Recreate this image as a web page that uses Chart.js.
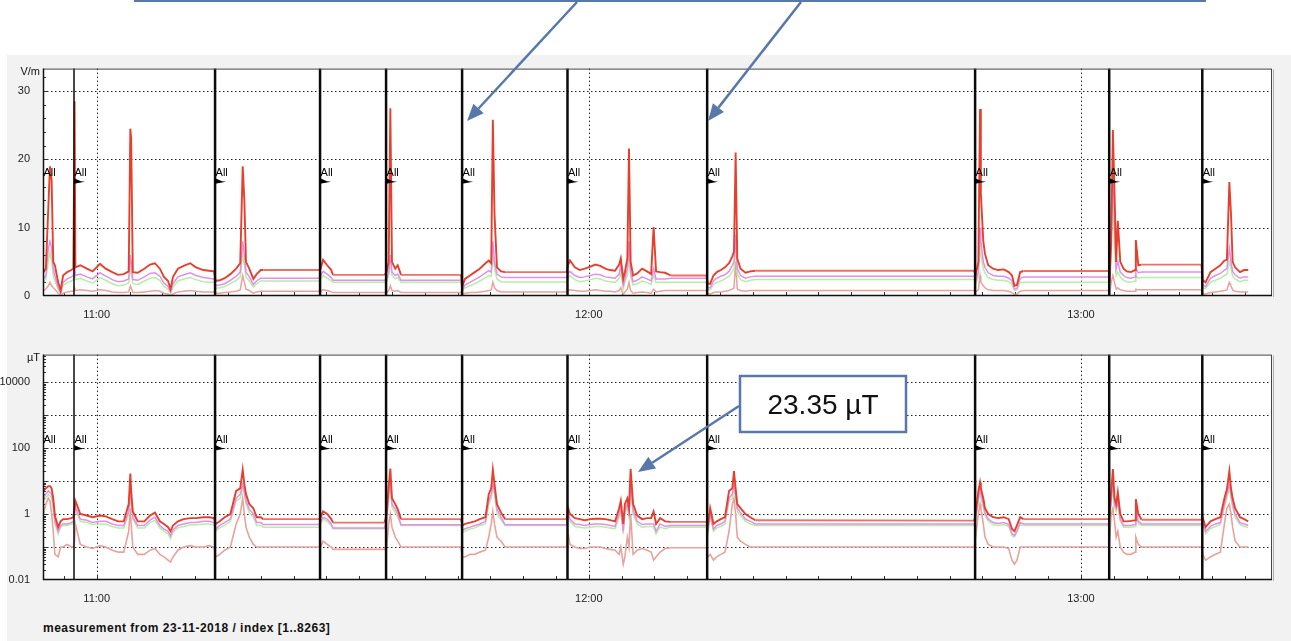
<!DOCTYPE html>
<html>
<head>
<meta charset="utf-8">
<script src="https://cdn.jsdelivr.net/npm/chart.js@4.4.0/dist/chart.umd.min.js"></script>
<style>
  body {
    margin: 0;
    width: 1291px;
    height: 641px;
    background: #fff;
    position: relative;
    overflow: hidden;
    font-family: "Liberation Sans", Arial, sans-serif;
  }
  #panel {
    position: absolute;
    left: 7px;
    top: 55px;
    width: 1284px;
    height: 586px;
    background: #f2f2f2;
  }
  canvas {
    position: absolute;
    left: 0;
  }
  #eCanvas { top: 57px; }
  #bCanvas { top: 343px; }
  #footer {
    position: absolute;
    left: 43px;
    top: 621px;
    font: bold 12px "Liberation Sans", Arial, sans-serif;
    letter-spacing: 0.5px;
    color: #111;
    white-space: nowrap;
  }
  #overlay {
    position: absolute;
    left: 0;
    top: 0;
    pointer-events: none;
  }
</style>
</head>
<body>

<div id="panel"></div>
<canvas id="eCanvas" width="1291" height="263"></canvas>
<canvas id="bCanvas" width="1291" height="262"></canvas>
<div id="footer">measurement from 23-11-2018 / index [1..8263]</div>
<svg id="overlay" width="1291" height="641"></svg>

<script>
// time axis: minutes after 11:00
const timeMin = -6.55;
const timeMax = 143.3;
const hourTicks = [0, 60, 120];

// start of each measurement run ("All" marker)
const sessionStarts = [-6.55, -2.77, 14.43, 27.23, 35.28, 44.55, 57.4, 74.43, 107.1, 123.45, 134.8];

// sample times, one row per run (last value of a row = held value until next run)
const minutes = [
  -6.5, -6.2, -5.9, -5.7, -5.5, -5.3, -5.1, -4.7, -4.4, -4.1, -3.6, -3.1, -2.85,
  -2.7, -2.6, -2.0, -1.2, -0.5, 0.4, 1.1, 1.9, 2.6, 3.3, 3.9, 4.1, 4.2, 4.4, 5.0, 5.8, 6.5, 7.1, 7.7, 8.2, 8.7, 9.0, 9.3, 9.9, 10.6, 11.4, 12.1, 13.0, 13.7, 14.3,
  14.5, 15.0, 15.6, 16.3, 17.0, 17.5, 17.8, 18.0, 18.2, 18.6, 19.1, 19.5, 20.0, 20.3, 27.1,
  27.3, 27.6, 28.1, 28.6, 28.8, 35.1,
  35.35, 35.6, 35.8, 36.0, 36.4, 36.7, 37.1, 44.4,
  44.6, 44.9, 45.5, 46.1, 46.7, 47.4, 47.8, 48.1, 48.3, 48.5, 48.8, 49.3, 49.8, 57.3,
  57.45, 57.7, 58.3, 58.9, 59.5, 60.2, 60.8, 61.4, 62.0, 62.6, 63.2, 63.7, 63.9, 64.2, 64.4, 64.7, 64.9, 65.1, 65.4, 65.9, 66.5, 67.1, 67.6, 67.9, 68.2, 68.7, 69.3, 70.0, 74.35,
  74.5, 74.8, 75.2, 75.6, 76.1, 76.6, 77.1, 77.5, 77.7, 77.9, 78.1, 78.5, 79.1, 79.7, 80.3, 107.0,
  107.15, 107.5, 107.7, 107.8, 108.1, 108.3, 108.7, 109.3, 109.9, 110.6, 111.2, 111.6, 111.9, 112.2, 112.6, 113.0, 123.4,
  123.5, 123.7, 123.9, 124.1, 124.3, 124.5, 124.8, 125.2, 125.6, 126.1, 126.6, 126.7, 127.0, 127.4, 134.7,
  134.85, 135.2, 135.8, 136.4, 137.0, 137.5, 137.8, 138.1, 138.3, 138.5, 138.8, 139.4, 139.9, 140.4
];

// electric field, V/m
const eRed = [
  3.5, 4, 13, 19, 17, 5, 4.5, 2, 0.8, 3, 3.5, 3.8, 4,
  28.5, 4.2, 4.5, 4.0, 3.6, 4.7, 4.0, 3.5, 3.1, 3.2, 3.6, 24.5, 23, 3.5, 3.4, 4.0, 4.6, 4.8, 4.0, 2.8, 2.2, 1.0, 2.8, 4.0, 4.4, 4.8, 4.2, 3.8, 3.7, 3.6,
  2.2, 2.3, 2.6, 3.2, 4.0, 4.8, 19, 14, 5, 4, 2.5, 3.2, 3.8, 3.8, 3.8,
  4.0, 5.3, 4.5, 3.8, 3.1, 3.1,
  3.5, 5, 27.5, 5, 4.0, 4.5, 3.1, 3.1,
  1.5, 2.5, 3.0, 3.5, 4.0, 4.8, 5.2, 4.8, 25.8, 12, 4.2, 3.6, 3.5, 3.5,
  4.5, 5.2, 4.2, 3.8, 4.0, 4.3, 4.6, 4.4, 4.0, 3.8, 3.7, 4.6, 5.5, 2.5, 3.5, 5.5, 21.6, 5, 3.0, 3.3, 4.0, 3.6, 3.2, 10.1, 3.6, 3.5, 3.4, 3.0, 3.0,
  1.8, 1.8, 3.0, 3.5, 3.8, 4.2, 4.8, 5.8, 6.5, 21, 5.5, 4.0, 3.4, 3.6, 3.7, 3.7,
  3.0, 5.0, 27.4, 15, 8, 6.2, 4.5, 4.0, 3.8, 3.9, 3.5, 3.0, 1.5, 1.6, 3.5, 3.66, 3.66,
  2.0, 8, 24.3, 15, 5, 11, 5, 4.0, 3.6, 3.5, 3.8, 8.2, 4.5, 4.6, 4.6,
  2.3, 2.0, 3.5, 4.0, 4.5, 5.2, 5.3, 16.7, 12, 5, 4.2, 3.5, 3.8, 3.8
];
const eViolet = [
  2.5, 3, 7, 8, 7, 4, 3, 1.2, 0.5, 2, 2.5, 2.8, 3,
  6, 3.0, 3.2, 2.8, 2.5, 3.4, 2.9, 2.4, 2.1, 2.2, 2.5, 6, 5, 2.4, 2.3, 2.8, 3.3, 3.4, 2.9, 1.9, 1.4, 0.6, 1.8, 2.8, 3.1, 3.4, 3.0, 2.7, 2.6, 2.5,
  1.5, 1.6, 1.8, 2.3, 2.9, 3.5, 8, 6, 3.5, 2.8, 1.7, 2.2, 2.6, 2.6, 2.6,
  3.0, 3.6, 3.2, 2.7, 2.3, 2.3,
  2.5, 3.5, 6, 3.5, 3, 3.2, 2.3, 2.3,
  1.0, 1.6, 2.0, 2.4, 2.8, 3.4, 3.7, 3.5, 8, 5, 3.2, 2.8, 2.7, 2.7,
  3.2, 3.6, 3.0, 2.7, 2.8, 3.0, 3.2, 3.1, 2.8, 2.7, 2.6, 3.2, 4.5, 1.6, 2.5, 4.0, 8.0, 3.5, 2.1, 2.3, 2.8, 2.5, 2.2, 4.0, 2.5, 2.5, 2.5, 2.6, 2.6,
  1.2, 1.2, 2.2, 2.6, 2.9, 3.1, 3.6, 4.5, 5, 9, 4, 3.0, 2.6, 2.8, 2.9, 2.9,
  2.2, 3.5, 10, 8, 5, 4.2, 3.4, 3.0, 2.9, 2.9, 2.6, 2.2, 1.0, 1.1, 2.6, 2.8, 2.8,
  1.5, 12, 19, 10, 4, 5, 3.5, 3.0, 2.7, 2.6, 2.8, 4, 3.4, 3.5, 3.5,
  1.6, 1.4, 2.6, 3.0, 3.3, 3.8, 4, 7, 5, 3.6, 3.1, 2.6, 2.8, 2.8
];
const eGreen = [
  2, 2.5, 5, 6.5, 5, 3, 2.2, 1, 0.3, 1.5, 2, 2.2, 2.4,
  4, 2.4, 2.6, 2.2, 1.9, 2.7, 2.3, 1.8, 1.5, 1.6, 1.9, 4, 3.5, 1.8, 1.7, 2.2, 2.6, 2.7, 2.3, 1.4, 1.0, 0.4, 1.3, 2.2, 2.5, 2.7, 2.4, 2.1, 2.0, 2.0,
  1.1, 1.2, 1.4, 1.8, 2.3, 2.8, 6, 4.5, 2.8, 2.2, 1.3, 1.8, 2.2, 2.2, 2.2,
  2.5, 3.0, 2.6, 2.2, 2.0, 2.0,
  2.0, 3.0, 5, 3, 2.5, 2.7, 2.0, 2.0,
  0.8, 1.2, 1.5, 1.8, 2.2, 2.7, 3.0, 2.9, 6, 4, 2.5, 2.1, 2.05, 2.05,
  2.6, 3.0, 2.4, 2.1, 2.2, 2.4, 2.6, 2.5, 2.2, 2.1, 2.0, 2.6, 3.5, 1.1, 2.0, 3.0, 6.0, 2.8, 1.6, 1.8, 2.2, 2.0, 1.7, 3.0, 2.0, 2.0, 2.0, 2.0, 2.0,
  0.9, 0.9, 1.7, 2.0, 2.2, 2.5, 2.9, 3.6, 4, 7, 3.2, 2.4, 2.1, 2.3, 2.4, 2.4,
  1.8, 2.8, 8, 6, 4, 3.4, 2.7, 2.4, 2.3, 2.3, 2.1, 1.7, 0.8, 0.9, 2.0, 2.0, 2.0,
  1.2, 9, 14, 7, 3, 3.5, 2.8, 2.3, 2.1, 2.0, 2.2, 3, 2.6, 2.7, 2.7,
  1.2, 1.1, 2.0, 2.3, 2.6, 3.0, 3.2, 5, 4, 2.9, 2.5, 2.1, 2.3, 2.3
];
const eSalmon = [
  0.8, 1, 1.5, 2, 1.5, 1.2, 1, 0.4, 0.2, 0.4, 0.6, 0.7, 0.7,
  1.2, 0.8, 0.9, 0.8, 0.7, 0.9, 0.8, 0.6, 0.5, 0.5, 0.6, 1.5, 1.2, 0.5, 0.5, 0.6, 0.7, 0.8, 0.7, 0.4, 0.3, 0.1, 0.3, 0.6, 0.7, 0.8, 0.7, 0.6, 0.6, 0.6,
  0.4, 0.4, 0.5, 0.6, 0.7, 0.9, 3, 2, 1.0, 0.8, 0.4, 0.6, 0.7, 0.7, 0.7,
  0.7, 0.9, 0.8, 0.6, 0.5, 0.5,
  0.5, 0.8, 1.5, 0.8, 0.7, 0.8, 0.5, 0.5,
  0.3, 0.4, 0.5, 0.5, 0.6, 0.7, 0.8, 0.9, 2, 1.2, 0.8, 0.6, 0.6, 0.6,
  0.8, 0.9, 0.8, 0.7, 0.7, 0.8, 0.9, 0.8, 0.7, 0.7, 0.6, 0.8, 1.2, 0.2, 0.6, 1.0, 2.0, 0.8, 0.4, 0.5, 0.6, 0.5, 0.4, 1.0, 0.6, 0.7, 0.8, 0.8, 0.8,
  0.3, 0.3, 0.5, 0.6, 0.6, 0.7, 0.8, 1.0, 1.2, 5, 1.0, 0.8, 0.7, 0.8, 0.8, 0.8,
  0.6, 0.9, 3, 2, 1.5, 1.2, 0.9, 0.8, 0.8, 0.8, 0.7, 0.5, 0.2, 0.3, 0.7, 0.8, 0.8,
  0.4, 2, 3, 2, 1, 1.2, 0.9, 0.8, 0.7, 0.7, 0.7, 1.0, 0.9, 0.9, 0.9,
  0.3, 0.3, 0.5, 0.6, 0.7, 0.8, 0.9, 2.0, 1.5, 0.9, 0.7, 0.6, 0.6, 0.6
];

// magnetic flux density, µT
const bRed = [
  5, 6, 7, 7, 6, 3, 0.9, 0.4, 0.6, 0.7, 0.7, 0.75, 0.8,
  1.5, 2.5, 1.0, 0.9, 0.8, 0.9, 0.85, 0.7, 0.6, 0.6, 2, 17, 5, 1.2, 0.6, 0.6, 0.9, 1.1, 0.6, 0.5, 0.4, 0.3, 0.45, 0.6, 0.7, 0.75, 0.75, 0.8, 0.8, 0.75,
  0.5, 0.6, 0.8, 1, 5, 6, 22, 8, 4, 2, 1.5, 0.8, 0.8, 0.7, 0.7,
  0.8, 1.2, 1.0, 0.7, 0.55, 0.55,
  1, 7, 24, 3, 2, 1.4, 0.7, 0.7,
  0.45, 0.5, 0.55, 0.6, 0.7, 0.8, 4, 6, 22, 8, 2, 1.1, 0.7, 0.7,
  1.6, 1.0, 0.75, 0.7, 0.65, 0.7, 0.72, 0.72, 0.7, 0.65, 0.6, 1.5, 2.5, 0.5, 2.0, 3.0, 1.5, 23.35, 2.0, 0.9, 0.7, 0.75, 0.75, 1.2, 0.5, 0.75, 0.6, 0.58, 0.58,
  0.4, 1.5, 0.5, 0.6, 0.7, 0.8, 5, 6, 20, 6, 2, 1.5, 1.0, 0.8, 0.65, 0.63,
  1, 5, 9, 6, 3, 1.5, 1.0, 0.8, 0.75, 0.8, 0.7, 0.35, 0.3, 0.45, 0.8, 0.7, 0.7,
  1, 5, 23, 3, 2, 4.6, 1, 0.6, 0.6, 0.62, 0.65, 2.8, 1.0, 0.67, 0.67,
  0.8, 0.4, 0.6, 0.7, 0.8, 3, 5.6, 20, 6, 3, 1.5, 0.8, 0.7, 0.6
];
const bViolet = [
  3, 4, 5, 4.5, 4, 2, 0.6, 0.3, 0.45, 0.5, 0.5, 0.55, 0.6,
  1.1, 1.6, 0.7, 0.65, 0.55, 0.6, 0.6, 0.5, 0.45, 0.45, 1.2, 6, 3, 0.8, 0.45, 0.45, 0.65, 0.8, 0.45, 0.35, 0.3, 0.22, 0.33, 0.45, 0.5, 0.55, 0.55, 0.6, 0.6, 0.55,
  0.35, 0.45, 0.55, 0.7, 3, 4, 8, 5, 2.5, 1.4, 1.0, 0.55, 0.55, 0.48, 0.48,
  0.6, 0.8, 0.7, 0.5, 0.38, 0.38,
  0.7, 4, 10, 2, 1.4, 1.0, 0.47, 0.47,
  0.32, 0.36, 0.4, 0.45, 0.5, 0.6, 2.5, 4, 8, 5, 1.4, 0.8, 0.47, 0.47,
  1.2, 0.7, 0.5, 0.48, 0.45, 0.48, 0.5, 0.5, 0.48, 0.45, 0.42, 1.0, 1.5, 0.3, 1.3, 2.0, 1.0, 8.0, 1.3, 0.6, 0.48, 0.5, 0.5, 0.5, 0.3, 0.5, 0.42, 0.45, 0.45,
  0.3, 1.0, 0.35, 0.45, 0.5, 0.6, 3, 4, 8, 4, 1.5, 1.1, 0.7, 0.6, 0.5, 0.5,
  0.7, 3, 6, 4, 2, 1.1, 0.7, 0.55, 0.52, 0.55, 0.48, 0.25, 0.22, 0.32, 0.55, 0.5, 0.5,
  0.7, 3, 8, 2, 1.5, 2.5, 0.7, 0.45, 0.45, 0.46, 0.48, 1.5, 0.6, 0.5, 0.5,
  0.55, 0.3, 0.42, 0.5, 0.55, 2, 4, 8, 4, 2, 1.0, 0.55, 0.5, 0.45
];
const bGreen = [
  2.5, 3, 4, 3.5, 3, 1.5, 0.5, 0.25, 0.4, 0.45, 0.45, 0.5, 0.5,
  0.9, 1.3, 0.6, 0.55, 0.48, 0.5, 0.5, 0.42, 0.38, 0.38, 1.0, 4, 2, 0.7, 0.38, 0.38, 0.55, 0.65, 0.38, 0.3, 0.25, 0.18, 0.28, 0.38, 0.42, 0.47, 0.47, 0.5, 0.5, 0.47,
  0.3, 0.38, 0.45, 0.6, 2.5, 3, 6, 4, 2, 1.1, 0.8, 0.45, 0.45, 0.4, 0.4,
  0.5, 0.7, 0.6, 0.45, 0.36, 0.36,
  0.6, 3, 8, 1.6, 1.1, 0.8, 0.45, 0.45,
  0.28, 0.3, 0.35, 0.38, 0.45, 0.5, 2, 3, 6, 4, 1.1, 0.65, 0.45, 0.45,
  1.0, 0.6, 0.42, 0.4, 0.38, 0.4, 0.42, 0.42, 0.4, 0.38, 0.36, 0.8, 1.2, 0.25, 1.0, 1.6, 0.8, 5.0, 1.0, 0.5, 0.4, 0.42, 0.42, 0.4, 0.25, 0.4, 0.36, 0.4, 0.4,
  0.25, 0.8, 0.3, 0.38, 0.42, 0.5, 2.5, 3, 6, 3, 1.2, 0.9, 0.6, 0.5, 0.45, 0.45,
  0.6, 2.5, 5, 3, 1.6, 0.9, 0.6, 0.48, 0.45, 0.48, 0.42, 0.22, 0.2, 0.28, 0.48, 0.45, 0.45,
  0.6, 2.5, 6, 1.6, 1.2, 2, 0.6, 0.4, 0.4, 0.4, 0.42, 1.2, 0.5, 0.45, 0.45,
  0.5, 0.25, 0.36, 0.42, 0.48, 1.6, 3, 6, 3, 1.6, 0.8, 0.48, 0.42, 0.4
];
const bSalmon = [
  1, 2, 3, 2.5, 1, 0.3, 0.06, 0.05, 0.1, 0.1, 0.12, 0.1, 0.1,
  0.15, 0.5, 0.12, 0.1, 0.09, 0.11, 0.1, 0.08, 0.07, 0.07, 0.3, 1.5, 0.5, 0.1, 0.06, 0.06, 0.08, 0.09, 0.06, 0.05, 0.04, 0.035, 0.05, 0.08, 0.1, 0.11, 0.1, 0.1, 0.11, 0.1,
  0.05, 0.06, 0.08, 0.1, 0.5, 1, 3, 1, 0.4, 0.2, 0.12, 0.1, 0.1, 0.1, 0.1,
  0.1, 0.15, 0.12, 0.1, 0.085, 0.085,
  0.1, 0.5, 1, 0.4, 0.2, 0.15, 0.1, 0.1,
  0.05, 0.05, 0.06, 0.06, 0.07, 0.08, 0.2, 0.5, 1.2, 0.5, 0.2, 0.15, 0.1, 0.1,
  0.3, 0.12, 0.1, 0.09, 0.09, 0.1, 0.1, 0.1, 0.09, 0.085, 0.08, 0.06, 0.1, 0.03, 0.05, 0.2, 0.1, 1.0, 0.06, 0.08, 0.09, 0.08, 0.07, 0.04, 0.05, 0.07, 0.09, 0.095, 0.095,
  0.05, 0.06, 0.04, 0.05, 0.06, 0.07, 0.3, 2, 3, 1, 0.2, 0.15, 0.12, 0.1, 0.1, 0.1,
  0.2, 1, 2, 1.5, 0.5, 0.2, 0.12, 0.1, 0.1, 0.1, 0.09, 0.04, 0.03, 0.04, 0.1, 0.1, 0.1,
  0.2, 1, 1.5, 0.6, 0.2, 0.3, 0.1, 0.07, 0.06, 0.06, 0.07, 0.2, 0.12, 0.1, 0.1,
  0.06, 0.04, 0.05, 0.06, 0.07, 0.5, 1.5, 2, 1.0, 0.4, 0.15, 0.1, 0.1, 0.1
];

// axes
const eTicks = [0, 10, 20, 30];
const eMax = 33.3;
const bTicks = [0.01, 0.1, 1, 10, 100, 1000, 10000];
const bLabelled = [0.01, 1, 100, 10000];
const bMax = 68000;


const colors = {
    red: "#e6402c",
    violet: "#e68cee",
    green: "#b2f0a2",
    salmon: "#e9a39c"
};


function series(values, color, holdColor, width) {

    return {
        data: minutes.map(
            (m, i) => ({ x: m, y: values[i] })
        ),
        borderColor: color,
        borderWidth: width,
        pointRadius: 0,
        tension: 0,
        segment: {
            borderColor: c =>
                c.p1.parsed.x - c.p0.parsed.x > 3 ? holdColor : color
        }
    };
}


function line(ctx, x1, y1, x2, y2) {
    ctx.beginPath();
    ctx.moveTo(x1, y1);
    ctx.lineTo(x2, y2);
    ctx.stroke();
}


// plot frame, dotted grid, inner tick marks, run markers
const framePlugin = {

    id: "frame",

    beforeDatasetsDraw(chart, args, opts) {

        const { ctx, chartArea: a } = chart;
        const xs = chart.scales.x;
        const ys = chart.scales.y;

        ctx.save();
        ctx.fillStyle = "#fff";
        ctx.fillRect(a.left, a.top, a.width, a.height);

        ctx.strokeStyle = "#222";
        ctx.lineWidth = 1;
        ctx.setLineDash([1.5, 2.5]);

        opts.grid.forEach(v => {
            const py = Math.round(ys.getPixelForValue(v)) + 0.5;
            line(ctx, a.left, py, a.right, py);
        });

        hourTicks.forEach(v => {
            const px = Math.round(xs.getPixelForValue(v)) + 0.5;
            line(ctx, px, a.top, px, a.bottom);
        });

        ctx.setLineDash([]);
        ctx.strokeStyle = "#333";

        for (let m = -4; m <= timeMax; m += 4) {
            const px = Math.round(xs.getPixelForValue(m)) + 0.5;
            line(ctx, px, a.bottom, px, a.bottom - 4);
        }

        opts.minor.forEach(v => {
            const py = Math.round(ys.getPixelForValue(v)) + 0.5;
            line(ctx, a.left, py, a.left + 3, py);
        });

        opts.grid.forEach(v => {
            const py = Math.round(ys.getPixelForValue(v)) + 0.5;
            line(ctx, a.left, py, a.left + 5, py);
        });

        ctx.restore();
    },

    afterDatasetsDraw(chart, args, opts) {

        const { ctx, chartArea: a } = chart;
        const xs = chart.scales.x;
        const ys = chart.scales.y;
        const fy = ys.getPixelForValue(opts.flagAt);

        ctx.save();

        sessionStarts.forEach((s, i) => {

            const px = xs.getPixelForValue(s);

            if (i > 0) {
                ctx.strokeStyle = "#0a0a0a";
                ctx.lineWidth = i === 1 ? 1.5 : 2.5;
                line(ctx, px, a.top, px, a.bottom);

                ctx.fillStyle = "#000";
                ctx.beginPath();
                ctx.moveTo(px, fy - 3);
                ctx.lineTo(px + 7, fy);
                ctx.lineTo(px + 11, fy + 0.5);
                ctx.lineTo(px, fy + 2.5);
                ctx.closePath();
                ctx.fill();
            }

            ctx.fillStyle = "#000";
            ctx.font = "11px 'Liberation Sans', Arial, sans-serif";
            ctx.textBaseline = "alphabetic";
            ctx.textAlign = "left";
            ctx.fillText("All", Math.max(px, a.left) + 0.5, fy - 5);
        });

        ctx.strokeStyle = "#444";
        ctx.lineWidth = 1;
        ctx.strokeRect(a.left + 0.5, a.top + 0.5, a.width - 1, a.height - 1);

        ctx.strokeStyle = "#111";
        ctx.lineWidth = 1.5;
        line(ctx, a.left, a.bottom - 0.5, a.right, a.bottom - 0.5);
        line(ctx, a.left + 0.5, a.top, a.left + 0.5, a.bottom);

        ctx.strokeStyle = "#b0b0b0";
        ctx.lineWidth = 1;
        line(ctx, a.right + 1.5, a.top + 1, a.right + 1.5, a.bottom + 1);

        ctx.fillStyle = "#111";
        ctx.font = "11px 'Liberation Sans', Arial, sans-serif";
        ctx.textAlign = "right";
        ctx.fillText(opts.unit, a.left - 3, a.top + 6);

        ctx.restore();
    }
};


function hourLabel(v) {
    const h = 11 + v / 60;
    return h + ":00";
}


function buildChart(canvasId, sets, yScale, frameOpts, padTop, xHeight) {

    return new Chart(

        document.getElementById(canvasId),

        {
            type: "line",

            data: {
                datasets: sets
            },

            options: {
                responsive: false,
                animation: false,
                events: [],
                layout: {
                    padding: { top: padTop, right: 19, left: 0, bottom: 0 }
                },
                plugins: {
                    legend: { display: false },
                    tooltip: { enabled: false },
                    frame: frameOpts
                },
                scales: {
                    x: {
                        type: "linear",
                        min: timeMin,
                        max: timeMax,
                        grid: { display: false },
                        border: { display: false },
                        afterBuildTicks: s => {
                            s.ticks = hourTicks.map(v => ({ value: v }));
                        },
                        afterFit: s => {
                            s.height = xHeight;
                        },
                        ticks: {
                            autoSkip: false,
                            maxRotation: 0,
                            padding: 4,
                            color: "#222",
                            font: { family: "'Liberation Sans', Arial, sans-serif", size: 11 },
                            callback: v => hourLabel(v)
                        }
                    },
                    y: yScale
                }
            },

            plugins: [framePlugin]
        }
    );
}


const eSets = [
    series(eRed, colors.red, "#ec7264", 1.9),
    series(eViolet, colors.violet, colors.violet, 1.5),
    series(eGreen, colors.green, colors.green, 1.5),
    series(eSalmon, colors.salmon, colors.salmon, 1.5)
];

const bSets = [
    series(bRed, colors.red, "#ec7264", 1.9),
    series(bViolet, colors.violet, colors.violet, 1.5),
    series(bGreen, colors.green, colors.green, 1.5),
    series(bSalmon, colors.salmon, colors.salmon, 1.6)
];

const axisFont = { family: "'Liberation Sans', Arial, sans-serif", size: 11 };

const eMinor = [];
for (let v = 2; v < eMax; v += 2) {
    if (v % 10 !== 0) eMinor.push(v);
}

const bMinor = [];
bTicks.forEach(d => {
    for (let k = 2; k <= 9; k++) {
        if (d * k < bMax) bMinor.push(d * k);
    }
});

buildChart(
    "eCanvas",
    eSets,
    {
        type: "linear",
        min: 0,
        max: eMax,
        grid: { display: false },
        border: { display: false },
        afterBuildTicks: s => {
            s.ticks = eTicks.map(v => ({ value: v }));
        },
        afterFit: s => {
            s.width = 43;
        },
        ticks: {
            padding: 5,
            color: "#222",
            font: axisFont,
            callback: v => String(v)
        }
    },
    {
        grid: eTicks.slice(1),
        minor: eMinor,
        unit: "V/m",
        flagAt: 16.8
    },
    4,
    24
);

buildChart(
    "bCanvas",
    bSets,
    {
        type: "logarithmic",
        min: 0.01,
        max: bMax,
        grid: { display: false },
        border: { display: false },
        afterBuildTicks: s => {
            s.ticks = bTicks.map(v => ({ value: v }));
        },
        afterFit: s => {
            s.width = 43;
        },
        ticks: {
            padding: 5,
            color: "#222",
            font: axisFont,
            callback: v => bLabelled.includes(v) ? String(v) : ""
        }
    },
    {
        grid: bTicks.slice(1),
        minor: bMinor,
        unit: "µT",
        flagAt: 100
    },
    7,
    25
);


// callouts drawn over the page
const svg = document.getElementById("overlay");
const NS = "http://www.w3.org/2000/svg";
const calloutBlue = "#5878aa";

function svgEl(tag, attrs) {
    const el = document.createElementNS(NS, tag);
    Object.keys(attrs).forEach(k => el.setAttribute(k, attrs[k]));
    svg.appendChild(el);
    return el;
}

function arrow(x1, y1, x2, y2) {
    const ang = Math.atan2(y2 - y1, x2 - x1);
    const len = 17;
    const half = 7;
    const bx = x2 - len * Math.cos(ang);
    const by = y2 - len * Math.sin(ang);
    const nx = -Math.sin(ang);
    const ny = Math.cos(ang);
    svgEl("line", {
        x1: x1, y1: y1, x2: bx, y2: by,
        stroke: calloutBlue, "stroke-width": 2.5
    });
    svgEl("polygon", {
        points: `${x2},${y2} ${bx + nx * half},${by + ny * half} ${bx - nx * half},${by - ny * half}`,
        fill: calloutBlue
    });
}

svgEl("rect", {
    x: 135, y: -60, width: 1070, height: 61,
    fill: "#fff", stroke: calloutBlue, "stroke-width": 2
});

arrow(577, 2, 467, 121);
arrow(801, 2, 708, 121);

svgEl("rect", {
    x: 740, y: 376, width: 166, height: 56,
    fill: "#fff", stroke: calloutBlue, "stroke-width": 2.5
});

const note = svgEl("text", {
    x: 823, y: 414, "text-anchor": "middle",
    "font-family": "'Liberation Sans', Arial, sans-serif",
    "font-size": 28, fill: "#111"
});
note.textContent = "23.35 µT";

arrow(739, 406, 638, 472);
</script>

</body>
</html>
